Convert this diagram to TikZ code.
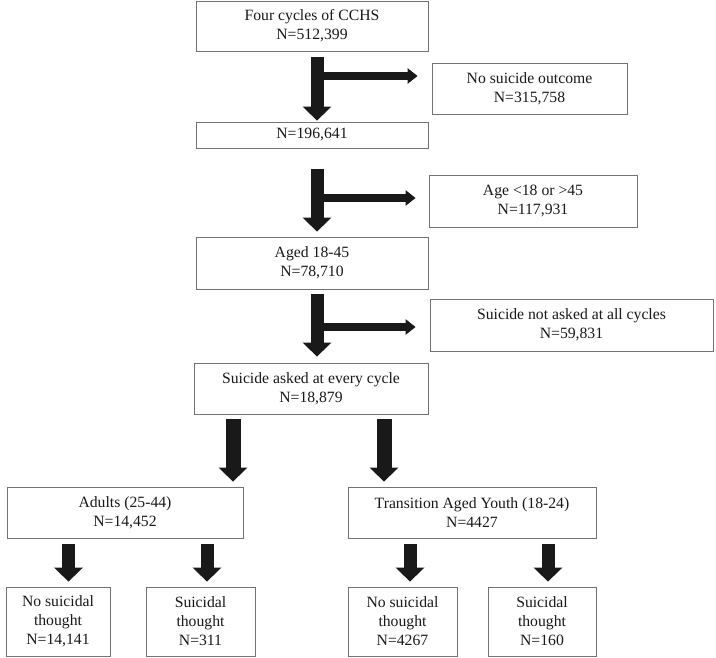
\documentclass[tikz,border=0pt]{standalone}
\usepackage{fontspec}
\setmainfont{Liberation Serif}
\usetikzlibrary{arrows.meta}
\begin{document}
\begin{tikzpicture}[x=1pt,y=-1pt,
  box/.style={draw=black!55,line width=0.8pt,fill=white,inner sep=0pt,align=center,
    font=\fontsize{15.7}{19}\selectfont,text=black!90},
  bigarrow/.style={draw=black!90,line width=13pt,-{Triangle[width=28pt,length=14pt]}},
  widearrow/.style={draw=black!90,line width=15pt,-{Triangle[width=28pt,length=14pt]}},
  sidearrow/.style={draw=black!90,line width=8pt,-{Triangle[width=15pt,length=10pt]}}]
\useasboundingbox (0,0) rectangle (716,658);
% main column
\node[box,minimum width=232pt,minimum height=50pt] (n1) at (312,26) {Four cycles of CCHS\\N=512,399};
\node[box,minimum width=232pt,minimum height=26pt] (n2) at (312,135) {N=196,641};
\node[box,minimum width=232pt,minimum height=52pt] (n3) at (312,263) {Aged 18-45\\N=78,710};
\node[box,minimum width=234pt,minimum height=51pt] (n4) at (311,388.5) {Suicide asked at every cycle\\N=18,879};
% side boxes
\node[box,minimum width=195pt,minimum height=51pt] (o1) at (529.5,88.5) {No suicide outcome\\N=315,758};
\node[box,minimum width=208pt,minimum height=52pt] (o2) at (533,201) {Age <18 or >45\\N=117,931};
\node[box,minimum width=283pt,minimum height=52pt] (o3) at (571.5,325) {Suicide not asked at all cycles\\N=59,831};
% groups
\node[box,minimum width=236pt,minimum height=51pt] (ad) at (125,512.5) {Adults (25-44)\\N=14,452};
\node[box,minimum width=248pt,minimum height=51pt] (ty) at (472,512.5) {Transition Aged Youth (18-24)\\N=4427};
% outcomes
\node[box,minimum width=104pt,minimum height=69pt] (b1) at (58,621.5) {No suicidal\\thought\\N=14,141};
\node[box,minimum width=109pt,minimum height=69pt] (b2) at (200.5,621.5) {Suicidal\\thought\\N=311};
\node[box,minimum width=109pt,minimum height=69pt] (b3) at (402.5,621.5) {No suicidal\\thought\\N=4267};
\node[box,minimum width=108pt,minimum height=69pt] (b4) at (542,621.5) {Suicidal\\thought\\N=160};
% arrow anchor coordinates
\coordinate (s1) at (317,57);  \coordinate (j1) at (317,76);
\coordinate (s2) at (317,169); \coordinate (j2) at (317,198);
\coordinate (s3) at (317,294); \coordinate (j3) at (317,327);
\coordinate (sl) at (233,419); \coordinate (sr) at (384,419);
\coordinate (c1) at (68.5,544); \coordinate (c2) at (207,544);
\coordinate (c3) at (410,544);  \coordinate (c4) at (548,544);
% main arrows
\draw[sidearrow,shorten >=14pt] (j1) -- (j1 -| o1.west);
\draw[bigarrow,shorten >=1pt] (s1) -- (s1 |- n2.north);
\draw[sidearrow,shorten >=13pt] (j2) -- (j2 -| o2.west);
\draw[bigarrow,shorten >=5pt] (s2) -- (s2 |- n3.north);
\draw[sidearrow,shorten >=14pt] (j3) -- (j3 -| o3.west);
\draw[bigarrow,shorten >=6pt] (s3) -- (s3 |- n4.north);
\draw[widearrow,shorten >=5pt] (sl) -- (sl |- ad.north);
\draw[widearrow,shorten >=5pt] (sr) -- (sr |- ty.north);
\draw[bigarrow,shorten >=5pt] (c1) -- (c1 |- b1.north);
\draw[bigarrow,shorten >=5pt] (c2) -- (c2 |- b2.north);
\draw[bigarrow,shorten >=5pt] (c3) -- (c3 |- b3.north);
\draw[bigarrow,shorten >=5pt] (c4) -- (c4 |- b4.north);
\end{tikzpicture}
\end{document}
